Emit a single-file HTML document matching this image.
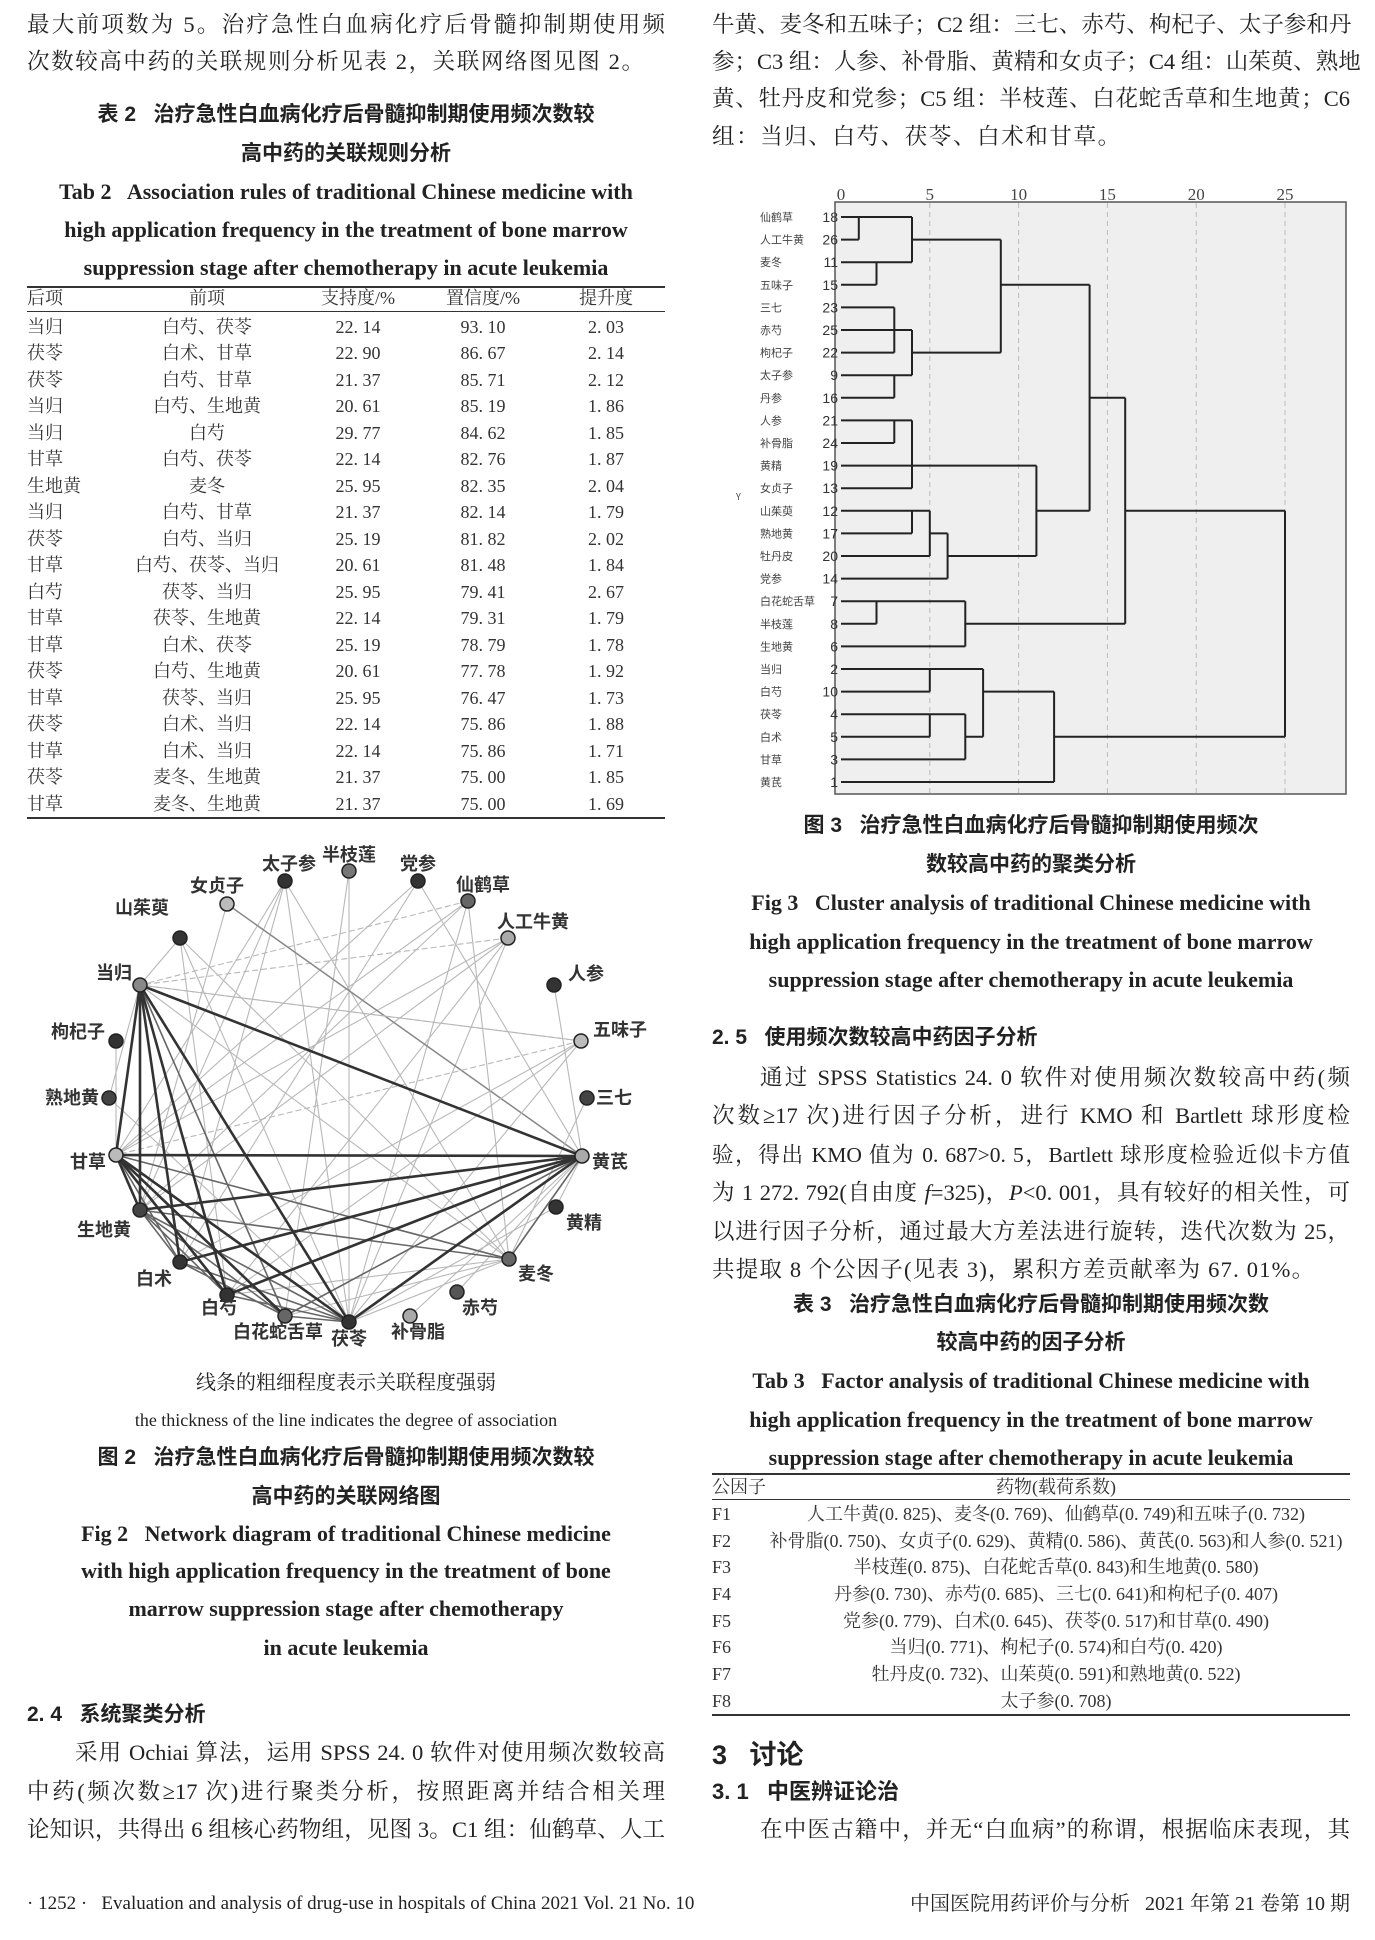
<!DOCTYPE html>
<html><head><meta charset="utf-8">
<style>
body{margin:0;background:#fff;}
#pg{position:relative;width:1375px;height:1940px;overflow:hidden;background:#fff;color:#222;font-family:"Liberation Serif","Noto Serif CJK SC",serif;}
.a{position:absolute;white-space:nowrap;line-height:30px;height:30px;}
.j{position:absolute;white-space:nowrap;line-height:30px;height:30px;text-align:justify;text-align-last:justify;font-size:22.5px;}
.cb{font-family:"Liberation Sans","Noto Sans CJK SC",sans-serif;font-weight:bold;font-size:21px;text-align:center;}
.eb{font-family:"Liberation Serif",serif;font-weight:bold;font-size:22px;}
.t{font-size:18px;color:#333;}
.rule{position:absolute;background:#333;}
table td{padding:0;height:26.5px;}
</style></head><body><div id="pg">

<div class="j" style="left:27px;top:10px;width:638px;">最大前项数为 5。治疗急性白血病化疗后骨髓抑制期使用频</div>
<div class="a" style="left:27px;top:47px;font-size:22.5px;letter-spacing:1.6px;">次数较高中药的关联规则分析见表 2，关联网络图见图 2。</div>
<div class="a cb" style="left:27px;width:638px;top:100px;">表 2&nbsp;&nbsp;&nbsp;治疗急性白血病化疗后骨髓抑制期使用频次数较</div>
<div class="a cb" style="left:27px;width:638px;top:139px;">高中药的关联规则分析</div>
<div class="a eb" style="left:27px;width:638px;top:177px;text-align:center;">Tab 2&nbsp;&nbsp; Association rules of traditional Chinese medicine with</div>
<div class="a eb" style="left:27px;width:638px;top:215px;text-align:center;">high application frequency in the treatment of bone marrow</div>
<div class="a eb" style="left:27px;width:638px;top:253px;text-align:center;">suppression stage after chemotherapy in acute leukemia</div>

<div class="rule" style="left:27px;top:286px;width:638px;height:2px;"></div>
<div class="rule" style="left:27px;top:311px;width:638px;height:1px;"></div>
<div class="rule" style="left:27px;top:817px;width:638px;height:2px;"></div>

<div class="j" style="left:712px;top:10px;width:638px;">牛黄、麦冬和五味子；C2 组：三七、赤芍、枸杞子、太子参和丹</div>
<div class="j" style="left:712px;top:47px;width:638px;">参；C3 组：人参、补骨脂、黄精和女贞子；C4 组：山茱萸、熟地</div>
<div class="j" style="left:712px;top:84px;width:638px;">黄、牡丹皮和党参；C5 组：半枝莲、白花蛇舌草和生地黄；C6</div>
<div class="a" style="left:712px;top:122px;font-size:22.5px;letter-spacing:1.6px;">组：当归、白芍、茯苓、白术和甘草。</div>

<div class="a cb" style="left:712px;width:638px;top:811px;">图 3&nbsp;&nbsp;&nbsp;治疗急性白血病化疗后骨髓抑制期使用频次</div>
<div class="a cb" style="left:712px;width:638px;top:850px;">数较高中药的聚类分析</div>
<div class="a eb" style="left:712px;width:638px;top:888px;text-align:center;">Fig 3&nbsp;&nbsp; Cluster analysis of traditional Chinese medicine with</div>
<div class="a eb" style="left:712px;width:638px;top:927px;text-align:center;">high application frequency in the treatment of bone marrow</div>
<div class="a eb" style="left:712px;width:638px;top:965px;text-align:center;">suppression stage after chemotherapy in acute leukemia</div>

<div class="a" style="left:712px;top:1023px;font-family:'Liberation Sans','Noto Sans CJK SC',sans-serif;font-weight:bold;font-size:21px;">2. 5&nbsp;&nbsp;&nbsp;使用频次数较高中药因子分析</div>
<div class="j" style="left:760px;top:1063px;width:590px;">通过 SPSS Statistics 24. 0 软件对使用频次数较高中药(频</div>
<div class="j" style="left:712px;top:1101px;width:638px;">次数≥17 次)进行因子分析，进行 KMO 和 Bartlett 球形度检</div>
<div class="j" style="left:712px;top:1140px;width:638px;font-size:21.5px;">验，得出 KMO 值为 0. 687&gt;0. 5，Bartlett 球形度检验近似卡方值</div>
<div class="j" style="left:712px;top:1178px;width:638px;">为 1 272. 792(自由度 <i>f</i>=325)，<i>P</i>&lt;0. 001，具有较好的相关性，可</div>
<div class="j" style="left:712px;top:1217px;width:638px;">以进行因子分析，通过最大方差法进行旋转，迭代次数为 25，</div>
<div class="a" style="left:712px;top:1255px;font-size:22.5px;letter-spacing:1.2px;">共提取 8 个公因子(见表 3)，累积方差贡献率为 67. 01%。</div>

<div class="a cb" style="left:712px;width:638px;top:1290px;">表 3&nbsp;&nbsp;&nbsp;治疗急性白血病化疗后骨髓抑制期使用频次数</div>
<div class="a cb" style="left:712px;width:638px;top:1328px;">较高中药的因子分析</div>
<div class="a eb" style="left:712px;width:638px;top:1366px;text-align:center;">Tab 3&nbsp;&nbsp; Factor analysis of traditional Chinese medicine with</div>
<div class="a eb" style="left:712px;width:638px;top:1405px;text-align:center;">high application frequency in the treatment of bone marrow</div>
<div class="a eb" style="left:712px;width:638px;top:1443px;text-align:center;">suppression stage after chemotherapy in acute leukemia</div>

<div class="rule" style="left:712px;top:1473px;width:638px;height:2px;"></div>
<div class="rule" style="left:712px;top:1499px;width:638px;height:1px;"></div>
<div class="rule" style="left:712px;top:1714px;width:638px;height:2px;"></div>
<div class="a t" style="left:712px;top:1472px;">公因子</div>
<div class="a t" style="left:712px;width:688px;top:1472px;text-align:center;">药物(载荷系数)</div>

<div class="a t" style="left:712px;top:1499px;">F1</div><div class="a t" style="left:712px;width:688px;top:1499px;text-align:center;">人工牛黄(0. 825)、麦冬(0. 769)、仙鹤草(0. 749)和五味子(0. 732)</div>
<div class="a t" style="left:712px;top:1526px;">F2</div><div class="a t" style="left:712px;width:688px;top:1526px;text-align:center;">补骨脂(0. 750)、女贞子(0. 629)、黄精(0. 586)、黄芪(0. 563)和人参(0. 521)</div>
<div class="a t" style="left:712px;top:1552px;">F3</div><div class="a t" style="left:712px;width:688px;top:1552px;text-align:center;">半枝莲(0. 875)、白花蛇舌草(0. 843)和生地黄(0. 580)</div>
<div class="a t" style="left:712px;top:1579px;">F4</div><div class="a t" style="left:712px;width:688px;top:1579px;text-align:center;">丹参(0. 730)、赤芍(0. 685)、三七(0. 641)和枸杞子(0. 407)</div>
<div class="a t" style="left:712px;top:1606px;">F5</div><div class="a t" style="left:712px;width:688px;top:1606px;text-align:center;">党参(0. 779)、白术(0. 645)、茯苓(0. 517)和甘草(0. 490)</div>
<div class="a t" style="left:712px;top:1632px;">F6</div><div class="a t" style="left:712px;width:688px;top:1632px;text-align:center;">当归(0. 771)、枸杞子(0. 574)和白芍(0. 420)</div>
<div class="a t" style="left:712px;top:1659px;">F7</div><div class="a t" style="left:712px;width:688px;top:1659px;text-align:center;">牡丹皮(0. 732)、山茱萸(0. 591)和熟地黄(0. 522)</div>
<div class="a t" style="left:712px;top:1686px;">F8</div><div class="a t" style="left:712px;width:688px;top:1686px;text-align:center;">太子参(0. 708)</div>

<div class="a" style="left:712px;top:1740px;font-family:'Liberation Sans','Noto Sans CJK SC',sans-serif;font-weight:bold;font-size:27px;">3&nbsp;&nbsp;&nbsp;讨论</div>
<div class="a" style="left:712px;top:1777px;font-family:'Liberation Sans','Noto Sans CJK SC',sans-serif;font-weight:bold;font-size:22px;">3. 1&nbsp;&nbsp;&nbsp;中医辨证论治</div>
<div class="j" style="left:760px;top:1815px;width:590px;">在中医古籍中，并无“白血病”的称谓，根据临床表现，其</div>

<div class="a" style="left:27px;width:638px;top:1368px;text-align:center;font-size:20px;">线条的粗细程度表示关联程度强弱</div>
<div class="a" style="left:27px;width:638px;top:1405px;text-align:center;font-size:18px;">the thickness of the line indicates the degree of association</div>
<div class="a cb" style="left:27px;width:638px;top:1443px;">图 2&nbsp;&nbsp;&nbsp;治疗急性白血病化疗后骨髓抑制期使用频次数较</div>
<div class="a cb" style="left:27px;width:638px;top:1482px;">高中药的关联网络图</div>
<div class="a eb" style="left:27px;width:638px;top:1519px;text-align:center;">Fig 2&nbsp;&nbsp; Network diagram of traditional Chinese medicine</div>
<div class="a eb" style="left:27px;width:638px;top:1556px;text-align:center;">with high application frequency in the treatment of bone</div>
<div class="a eb" style="left:27px;width:638px;top:1594px;text-align:center;">marrow suppression stage after chemotherapy</div>
<div class="a eb" style="left:27px;width:638px;top:1633px;text-align:center;">in acute leukemia</div>

<div class="a" style="left:27px;top:1700px;font-family:'Liberation Sans','Noto Sans CJK SC',sans-serif;font-weight:bold;font-size:21px;">2. 4&nbsp;&nbsp;&nbsp;系统聚类分析</div>
<div class="j" style="left:75px;top:1738px;width:590px;">采用 Ochiai 算法，运用 SPSS 24. 0 软件对使用频次数较高</div>
<div class="j" style="left:27px;top:1777px;width:638px;">中药(频次数≥17 次)进行聚类分析，按照距离并结合相关理</div>
<div class="j" style="left:27px;top:1815px;width:638px;">论知识，共得出 6 组核心药物组，见图 3。C1 组：仙鹤草、人工</div>

<div class="a" style="left:27px;top:1889px;font-size:19px;">· 1252 ·&nbsp;&nbsp; Evaluation and analysis of drug-use in hospitals of China 2021 Vol. 21 No. 10</div>
<div class="a" style="left:900px;width:450px;top:1889px;font-size:20px;text-align:right;">中国医院用药评价与分析&nbsp;&nbsp;&nbsp;2021 年第 21 卷第 10 期</div>

<div style="position:absolute;left:27px;top:285px;width:638px;font-size:18px;color:#333;">
<table style="border-collapse:collapse;width:638px;table-layout:fixed;line-height:26.5px;">
<colgroup><col style="width:90px"><col style="width:180px"><col style="width:122px"><col style="width:128px"><col style="width:118px"></colgroup>
<tr style="height:26px"><td>后项</td><td style="text-align:center">前项</td><td style="text-align:center">支持度/%</td><td style="text-align:center">置信度/%</td><td style="text-align:center">提升度</td></tr>
</table>
<table style="border-collapse:collapse;width:638px;table-layout:fixed;line-height:26.5px;margin-top:2px;text-align:center;">
<colgroup><col style="width:90px"><col style="width:180px"><col style="width:122px"><col style="width:128px"><col style="width:118px"></colgroup>
<tr><td style="text-align:left">当归</td><td>白芍、茯苓</td><td>22. 14</td><td>93. 10</td><td>2. 03</td></tr>
<tr><td style="text-align:left">茯苓</td><td>白术、甘草</td><td>22. 90</td><td>86. 67</td><td>2. 14</td></tr>
<tr><td style="text-align:left">茯苓</td><td>白芍、甘草</td><td>21. 37</td><td>85. 71</td><td>2. 12</td></tr>
<tr><td style="text-align:left">当归</td><td>白芍、生地黄</td><td>20. 61</td><td>85. 19</td><td>1. 86</td></tr>
<tr><td style="text-align:left">当归</td><td>白芍</td><td>29. 77</td><td>84. 62</td><td>1. 85</td></tr>
<tr><td style="text-align:left">甘草</td><td>白芍、茯苓</td><td>22. 14</td><td>82. 76</td><td>1. 87</td></tr>
<tr><td style="text-align:left">生地黄</td><td>麦冬</td><td>25. 95</td><td>82. 35</td><td>2. 04</td></tr>
<tr><td style="text-align:left">当归</td><td>白芍、甘草</td><td>21. 37</td><td>82. 14</td><td>1. 79</td></tr>
<tr><td style="text-align:left">茯苓</td><td>白芍、当归</td><td>25. 19</td><td>81. 82</td><td>2. 02</td></tr>
<tr><td style="text-align:left">甘草</td><td>白芍、茯苓、当归</td><td>20. 61</td><td>81. 48</td><td>1. 84</td></tr>
<tr><td style="text-align:left">白芍</td><td>茯苓、当归</td><td>25. 95</td><td>79. 41</td><td>2. 67</td></tr>
<tr><td style="text-align:left">甘草</td><td>茯苓、生地黄</td><td>22. 14</td><td>79. 31</td><td>1. 79</td></tr>
<tr><td style="text-align:left">甘草</td><td>白术、茯苓</td><td>25. 19</td><td>78. 79</td><td>1. 78</td></tr>
<tr><td style="text-align:left">茯苓</td><td>白芍、生地黄</td><td>20. 61</td><td>77. 78</td><td>1. 92</td></tr>
<tr><td style="text-align:left">甘草</td><td>茯苓、当归</td><td>25. 95</td><td>76. 47</td><td>1. 73</td></tr>
<tr><td style="text-align:left">茯苓</td><td>白术、当归</td><td>22. 14</td><td>75. 86</td><td>1. 88</td></tr>
<tr><td style="text-align:left">甘草</td><td>白术、当归</td><td>22. 14</td><td>75. 86</td><td>1. 71</td></tr>
<tr><td style="text-align:left">茯苓</td><td>麦冬、生地黄</td><td>21. 37</td><td>75. 00</td><td>1. 85</td></tr>
<tr><td style="text-align:left">甘草</td><td>麦冬、生地黄</td><td>21. 37</td><td>75. 00</td><td>1. 69</td></tr>
</table></div>

<svg style="position:absolute;left:0;top:0" width="1375" height="1940" viewBox="0 0 1375 1940">
<rect x="835" y="202" width="511" height="592" fill="#efefef" stroke="#555" stroke-width="1.5"/>
<g stroke="#bbb" stroke-dasharray="5,4" stroke-width="1">
<line x1="929.8" y1="203" x2="929.8" y2="793"/><line x1="1018.6" y1="203" x2="1018.6" y2="793"/><line x1="1107.4" y1="203" x2="1107.4" y2="793"/><line x1="1196.2" y1="203" x2="1196.2" y2="793"/><line x1="1285" y1="203" x2="1285" y2="793"/>
</g>
<g font-family="Liberation Serif,serif" font-size="17" fill="#444" text-anchor="middle">
<text x="841" y="200">0</text><text x="929.8" y="200">5</text><text x="1018.6" y="200">10</text><text x="1107.4" y="200">15</text><text x="1196.2" y="200">20</text><text x="1285" y="200">25</text>
</g>
<path fill="none" stroke="#222" stroke-width="2" d="M841 217H912 M841 239.6H858.8 M858.8 217V239.6 M912 217V262.2 M841 262.2H912 M841 284.8H876.5 M876.5 262.2V284.8
M912 239.6H1000.8 M1000.8 239.6V352.6 M1000.8 284.8H1089.6 M1089.6 284.8V510.8
M841 307.4H894.3 M841 352.6H894.3 M894.3 307.4V352.6 M841 330H912 M841 375.2H912 M912 330V375.2 M841 397.8H894.3 M894.3 375.2V397.8 M912 352.6H1000.8
M841 420.4H912 M841 443H894.3 M894.3 420.4V443 M912 420.4V488.2 M841 465.6H1036.4 M841 488.2H912 M1036.4 465.6V556
M841 510.8H929.8 M841 533.4H912 M912 510.8V533.4 M929.8 510.8V556 M841 556H929.8 M929.8 533.4H947.6 M841 578.6H947.6 M947.6 533.4V578.6 M947.6 556H1036.4 M1036.4 510.8H1089.6
M1089.6 397.8H1125.2 M1125.2 397.8V623.8
M841 601.2H965.3 M841 623.8H876.5 M876.5 601.2V623.8 M965.3 601.2V646.4 M841 646.4H965.3 M965.3 623.8H1125.2
M1125.2 510.8H1285 M1285 510.8V736.8
M841 669H983.1 M841 691.6H929.8 M929.8 669V691.6 M983.1 669V736.8 M841 714.2H965.3 M841 736.8H929.8 M929.8 714.2V736.8 M965.3 714.2V759.4 M841 759.4H965.3 M965.3 736.8H983.1 M983.1 691.6H1054.1 M1054.1 691.6V782 M841 782H1054.1 M1054.1 736.8H1285"/>
<g font-family="Liberation Sans,sans-serif" font-size="14" fill="#333" text-anchor="end">
<text x="838" y="222">18</text><text x="838" y="244.6">26</text><text x="838" y="267.2">11</text><text x="838" y="289.8">15</text><text x="838" y="312.4">23</text><text x="838" y="335">25</text><text x="838" y="357.6">22</text><text x="838" y="380.2">9</text><text x="838" y="402.8">16</text><text x="838" y="425.4">21</text><text x="838" y="448">24</text><text x="838" y="470.6">19</text><text x="838" y="493.2">13</text><text x="838" y="515.8">12</text><text x="838" y="538.4">17</text><text x="838" y="561">20</text><text x="838" y="583.6">14</text><text x="838" y="606.2">7</text><text x="838" y="628.8">8</text><text x="838" y="651.4">6</text><text x="838" y="674">2</text><text x="838" y="696.6">10</text><text x="838" y="719.2">4</text><text x="838" y="741.8">5</text><text x="838" y="764.4">3</text><text x="838" y="787">1</text>
</g>
<g font-family="Noto Sans CJK SC,sans-serif" font-size="11" fill="#444">
<text x="760" y="221">仙鹤草</text><text x="760" y="243.6">人工牛黄</text><text x="760" y="266.2">麦冬</text><text x="760" y="288.8">五味子</text><text x="760" y="311.4">三七</text><text x="760" y="334">赤芍</text><text x="760" y="356.6">枸杞子</text><text x="760" y="379.2">太子参</text><text x="760" y="401.8">丹参</text><text x="760" y="424.4">人参</text><text x="760" y="447">补骨脂</text><text x="760" y="469.6">黄精</text><text x="760" y="492.2">女贞子</text><text x="760" y="514.8">山茱萸</text><text x="760" y="537.4">熟地黄</text><text x="760" y="560">牡丹皮</text><text x="760" y="582.6">党参</text><text x="760" y="605.2">白花蛇舌草</text><text x="760" y="627.8">半枝莲</text><text x="760" y="650.4">生地黄</text><text x="760" y="673">当归</text><text x="760" y="695.6">白芍</text><text x="760" y="718.2">茯苓</text><text x="760" y="740.8">白术</text><text x="760" y="763.4">甘草</text><text x="760" y="786">黄芪</text>
<text x="736" y="500" font-size="9">Y</text>
</g>

<g stroke="#b8b8b8" stroke-width="1.1" fill="none">
<line x1="285" y1="881" x2="349" y2="1322"/><line x1="285" y1="881" x2="140" y2="1210"/><line x1="285" y1="881" x2="180" y2="1262"/><line x1="285" y1="881" x2="116" y2="1155"/><line x1="285" y1="881" x2="509" y2="1259"/>
<line x1="349" y1="871" x2="285" y2="1316"/><line x1="349" y1="871" x2="349" y2="1322"/>
<line x1="418" y1="881" x2="582" y2="1156"/><line x1="418" y1="881" x2="180" y2="1262"/><line x1="418" y1="881" x2="116" y2="1155"/>
<line x1="468" y1="901" x2="116" y2="1155"/><line x1="468" y1="901" x2="140" y2="1210"/><line x1="468" y1="901" x2="140" y2="985" stroke-dasharray="6,3"/><line x1="468" y1="901" x2="509" y2="1259"/><line x1="468" y1="901" x2="349" y2="1322"/>
<line x1="508" y1="938" x2="140" y2="985" stroke-dasharray="6,3"/><line x1="508" y1="938" x2="116" y2="1155"/><line x1="508" y1="938" x2="140" y2="1210"/><line x1="508" y1="938" x2="227" y2="1295"/><line x1="508" y1="938" x2="349" y2="1322"/>
<line x1="180" y1="938" x2="349" y2="1322"/><line x1="180" y1="938" x2="509" y2="1259"/><line x1="180" y1="938" x2="140" y2="985"/><line x1="180" y1="938" x2="227" y2="1295"/>
<line x1="227" y1="904" x2="582" y2="1156" stroke="#888" stroke-width="1.5"/><line x1="227" y1="904" x2="140" y2="1210"/>
<line x1="581" y1="1041" x2="116" y2="1155" stroke-dasharray="6,3"/><line x1="581" y1="1041" x2="140" y2="985" stroke-dasharray="6,3"/><line x1="581" y1="1041" x2="180" y2="1262"/><line x1="581" y1="1041" x2="227" y2="1295"/><line x1="581" y1="1041" x2="349" y2="1322"/>
<line x1="554" y1="985" x2="582" y2="1156"/><line x1="587" y1="1098" x2="509" y2="1259"/>
<line x1="509" y1="1259" x2="349" y2="1322"/><line x1="509" y1="1259" x2="227" y2="1295"/><line x1="509" y1="1259" x2="285" y2="1316"/>
<line x1="556" y1="1207" x2="582" y2="1156"/><line x1="556" y1="1207" x2="349" y2="1322"/>
<line x1="457" y1="1292" x2="582" y2="1156"/><line x1="410" y1="1316" x2="582" y2="1156"/>
<line x1="109" y1="1098" x2="140" y2="985"/><line x1="116" y1="1041" x2="116" y2="1155"/><line x1="109" y1="1098" x2="349" y2="1322"/>
<line x1="140" y1="985" x2="509" y2="1259"/><line x1="140" y1="985" x2="581" y2="1041"/>
</g>
<g stroke="#666" stroke-width="1.6">
<line x1="140" y1="1210" x2="509" y2="1259"/><line x1="116" y1="1155" x2="509" y2="1259"/><line x1="140" y1="1210" x2="349" y2="1322"/><line x1="180" y1="1262" x2="349" y2="1322"/><line x1="227" y1="1295" x2="349" y2="1322"/><line x1="285" y1="1316" x2="349" y2="1322"/><line x1="140" y1="1210" x2="227" y2="1295"/><line x1="140" y1="1210" x2="285" y2="1316"/><line x1="180" y1="1262" x2="285" y2="1316"/><line x1="116" y1="1155" x2="180" y2="1262"/><line x1="140" y1="1210" x2="180" y2="1262"/><line x1="140" y1="985" x2="285" y2="1316"/><line x1="582" y1="1156" x2="285" y2="1316"/><line x1="582" y1="1156" x2="509" y2="1259"/>
</g>
<g stroke="#333" stroke-width="2.6">
<line x1="140" y1="985" x2="582" y2="1156"/><line x1="140" y1="985" x2="116" y2="1155"/><line x1="140" y1="985" x2="349" y2="1322"/><line x1="140" y1="985" x2="227" y2="1295"/><line x1="140" y1="985" x2="180" y2="1262"/><line x1="140" y1="985" x2="140" y2="1210"/>
<line x1="116" y1="1155" x2="582" y2="1156"/><line x1="116" y1="1155" x2="349" y2="1322"/><line x1="116" y1="1155" x2="140" y2="1210"/><line x1="116" y1="1155" x2="227" y2="1295"/><line x1="116" y1="1155" x2="285" y2="1316"/>
<line x1="582" y1="1156" x2="140" y2="1210"/><line x1="582" y1="1156" x2="180" y2="1262"/><line x1="582" y1="1156" x2="349" y2="1322"/><line x1="582" y1="1156" x2="227" y2="1295"/>
</g>
<g stroke="#222" stroke-width="1.5">
<circle cx="227" cy="904" r="7" fill="#bbb"/><circle cx="285" cy="881" r="7" fill="#333"/><circle cx="349" cy="871" r="7" fill="#777"/><circle cx="418" cy="881" r="7" fill="#333"/><circle cx="468" cy="901" r="7" fill="#666"/><circle cx="508" cy="938" r="7" fill="#aaa"/><circle cx="554" cy="985" r="7" fill="#333"/><circle cx="581" cy="1041" r="7" fill="#bbb"/><circle cx="587" cy="1098" r="7" fill="#444"/><circle cx="582" cy="1156" r="7" fill="#aaa"/><circle cx="556" cy="1207" r="7" fill="#333"/><circle cx="509" cy="1259" r="7" fill="#666"/><circle cx="457" cy="1292" r="7" fill="#555"/><circle cx="410" cy="1316" r="7" fill="#aaa"/><circle cx="349" cy="1322" r="7" fill="#333"/><circle cx="285" cy="1316" r="7" fill="#666"/><circle cx="227" cy="1295" r="7" fill="#333"/><circle cx="180" cy="1262" r="7" fill="#333"/><circle cx="140" cy="1210" r="7" fill="#444"/><circle cx="116" cy="1155" r="7" fill="#bbb"/><circle cx="109" cy="1098" r="7" fill="#444"/><circle cx="116" cy="1041" r="7" fill="#333"/><circle cx="140" cy="985" r="7" fill="#888"/><circle cx="180" cy="938" r="7" fill="#333"/>
</g>
<g font-family="Noto Sans CJK SC,sans-serif" font-weight="bold" font-size="18" fill="#333" text-anchor="middle">
<text x="289" y="870">太子参</text><text x="349" y="861">半枝莲</text><text x="418" y="870">党参</text><text x="483" y="891">仙鹤草</text><text x="217" y="892">女贞子</text><text x="142" y="914">山茱萸</text><text x="533" y="928">人工牛黄</text><text x="586" y="980">人参</text><text x="620" y="1036">五味子</text><text x="614" y="1104">三七</text><text x="610" y="1168">黄芪</text><text x="584" y="1229">黄精</text><text x="536" y="1280">麦冬</text><text x="480" y="1314">赤芍</text><text x="418" y="1338">补骨脂</text><text x="349" y="1345">茯苓</text><text x="278" y="1338">白花蛇舌草</text><text x="219" y="1314">白芍</text><text x="154" y="1285">白术</text><text x="104" y="1236">生地黄</text><text x="88" y="1168">甘草</text><text x="72" y="1104">熟地黄</text><text x="78" y="1038">枸杞子</text><text x="114" y="979">当归</text>
</g>
</svg>
</div></body></html>
